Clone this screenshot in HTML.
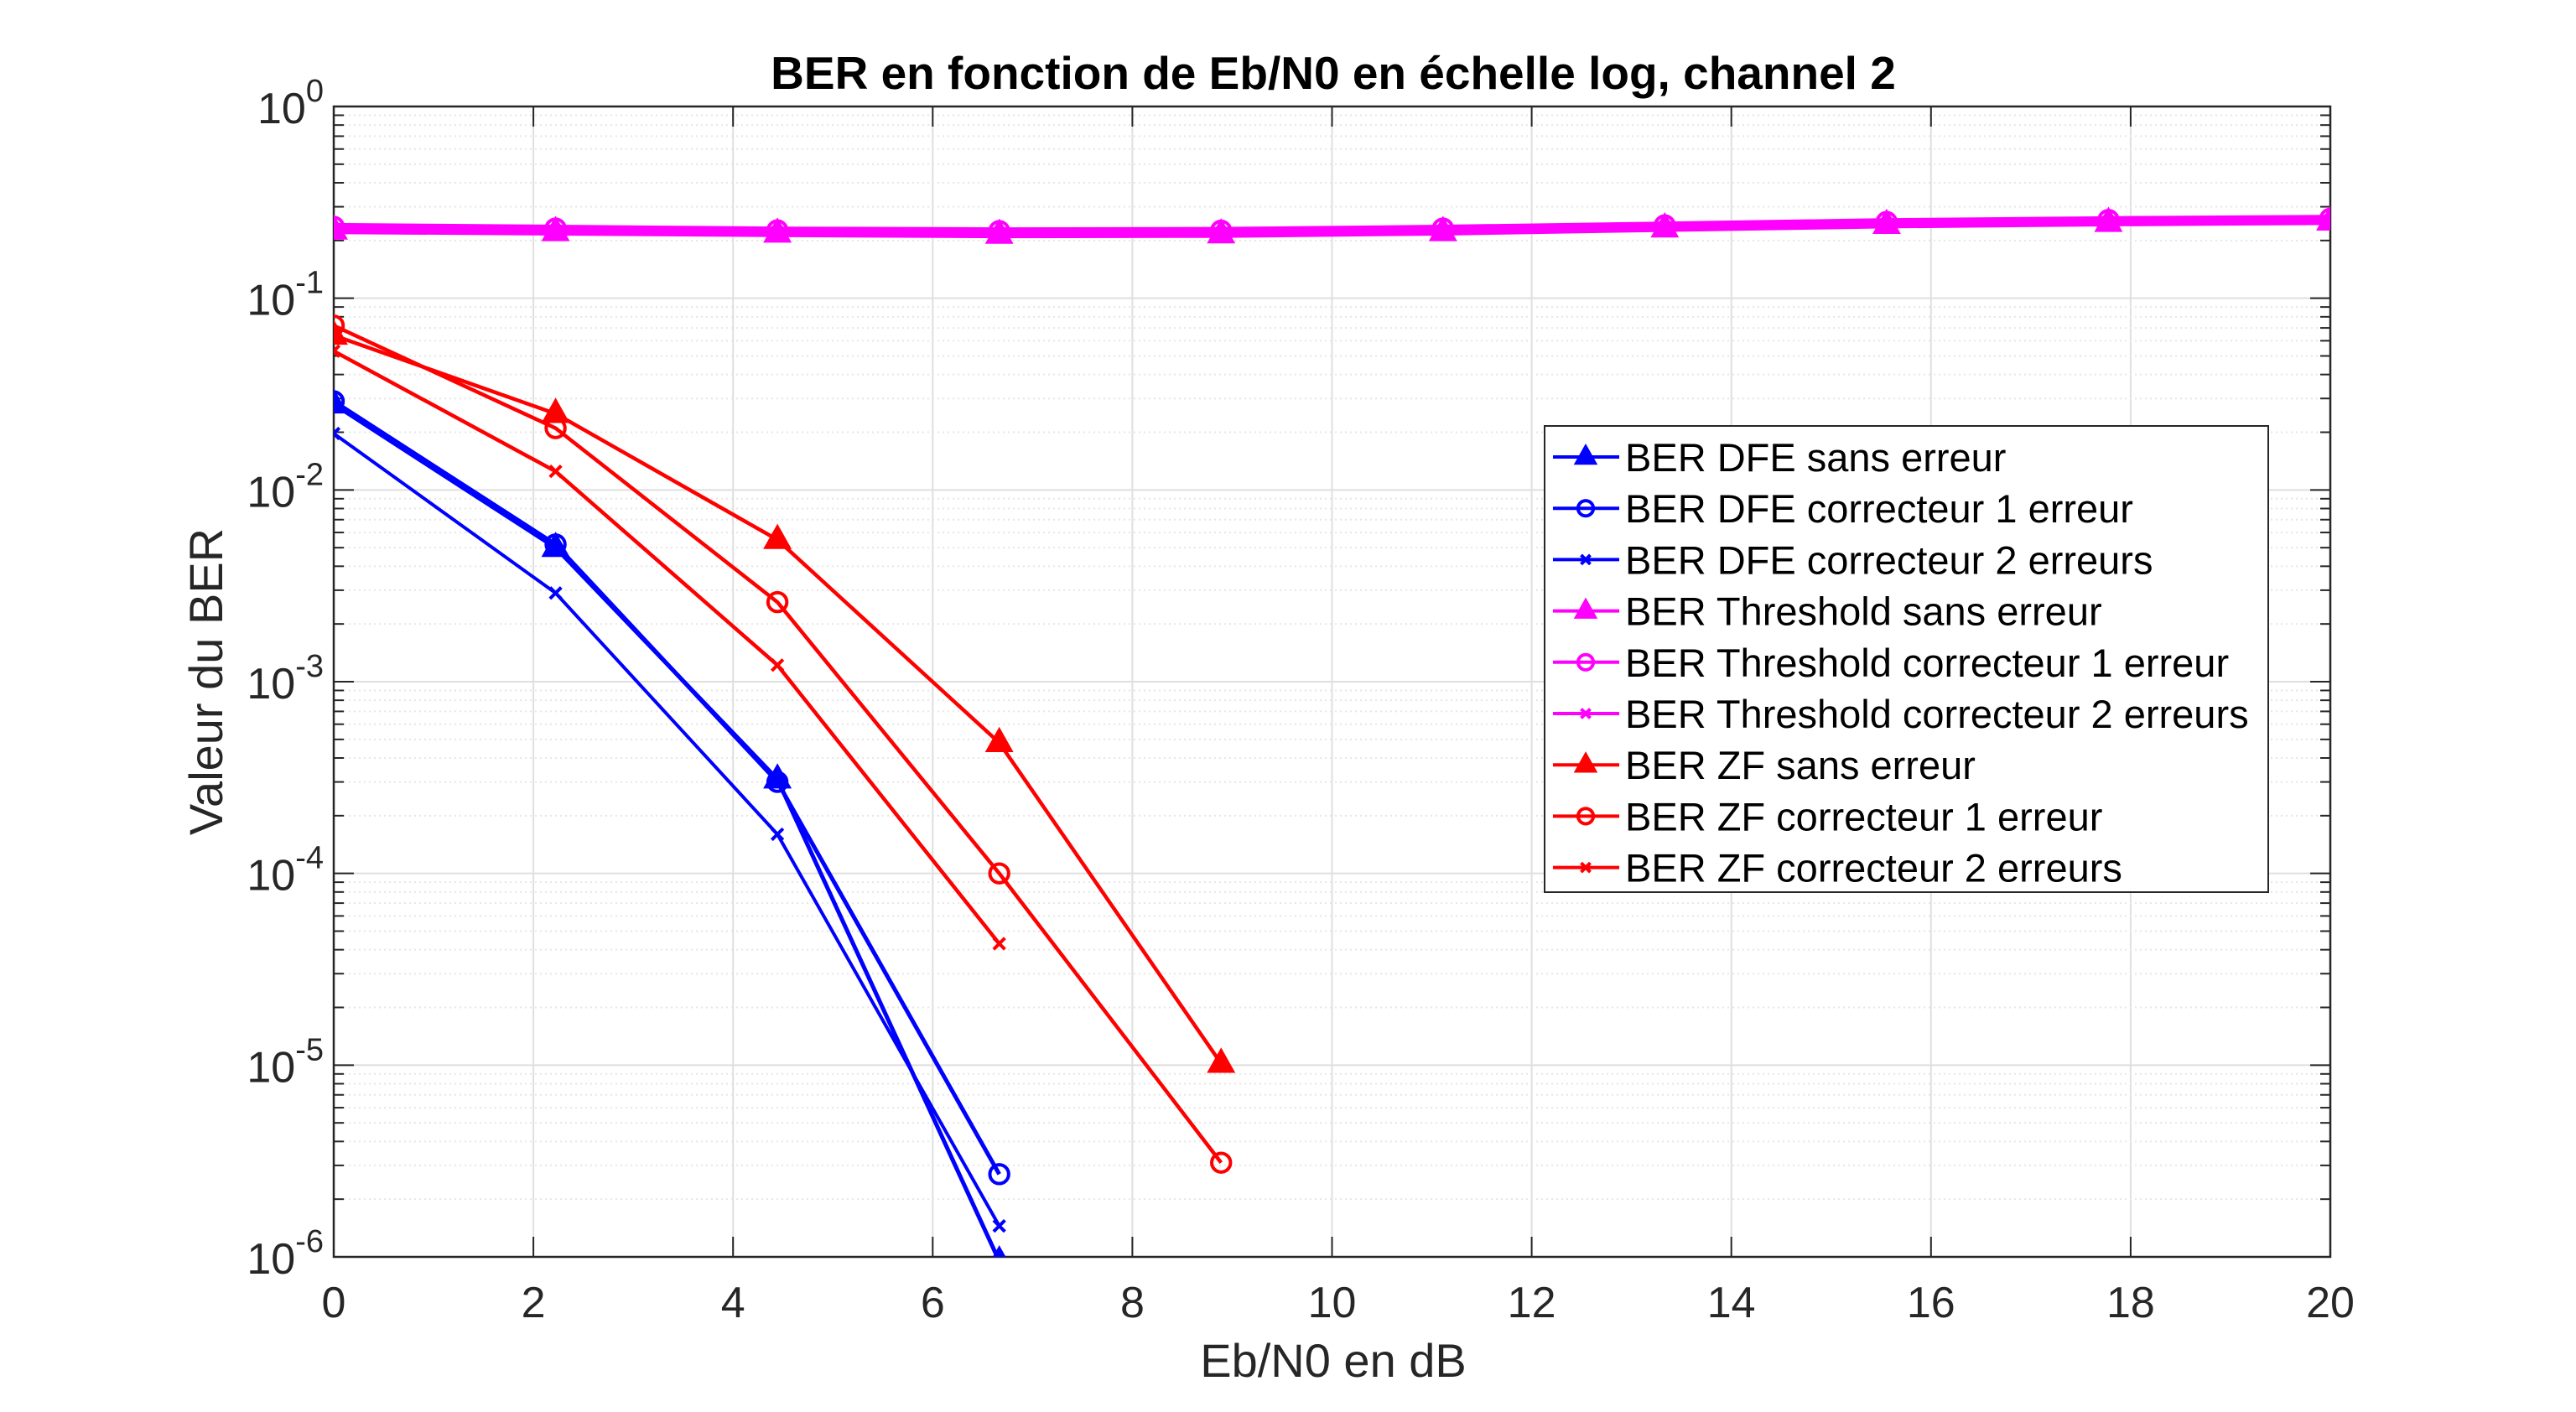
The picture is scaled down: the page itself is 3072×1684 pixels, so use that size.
<!DOCTYPE html>
<html><head><meta charset="utf-8"><style>
html,body{margin:0;padding:0;background:#fff}
svg{display:block;font-family:"Liberation Sans",Arial,sans-serif}
</style></head><body>
<svg id="chart" width="3072" height="1684" viewBox="0 0 3072 1684" xmlns="http://www.w3.org/2000/svg">
<rect width="3072" height="1684" fill="#fff"/>
<g id="grid"></g>
<g id="axes"></g>
<g id="series"></g>
<g id="legend"></g>
</svg>
<script>
const xValues=[0,2.2222,4.4444,6.6667,8.8889,11.1111,13.3333,15.5556,17.7778,20];
const dfeSans=[0.028,0.005,3.1e-4,9.5e-7];
const dfeC1=[0.029,0.0052,3.0e-4,2.7e-6];
const dfeC2=[0.0197,0.0029,1.6e-4,1.45e-6];
const thrSans=[0.226,0.222,0.218,0.215,0.216,0.222,0.232,0.242,0.248,0.252];
const thrC1=[0.236,0.231,0.226,0.224,0.225,0.231,0.240,0.250,0.256,0.260];
const thrC2=[0.229,0.225,0.221,0.218,0.219,0.225,0.235,0.245,0.251,0.255];
const zfSans=[0.064,0.025,0.0055,4.8e-4,1.02e-5];
const zfC1=[0.072,0.021,2.6e-3,1.0e-4,3.1e-6];
const zfC2=[0.053,0.0125,1.22e-3,4.3e-5];
const xTicks=[0,2,4,6,8,10,12,14,16,18,20];
const yExps=[0,-1,-2,-3,-4,-5,-6];
const legendLabels=["BER DFE sans erreur","BER DFE correcteur 1 erreur","BER DFE correcteur 2 erreurs","BER Threshold sans erreur","BER Threshold correcteur 1 erreur","BER Threshold correcteur 2 erreurs","BER ZF sans erreur","BER ZF correcteur 1 erreur","BER ZF correcteur 2 erreurs"];

const NS="http://www.w3.org/2000/svg";
const L=398,R=2779,T=127,B=1499;
const sx=v=>L+(v/20)*(R-L);
const sy=v=>T+(-Math.log10(v))/6*(B-T);
function mk(tag,attrs,parent){const e=document.createElementNS(NS,tag);for(const k in attrs)e.setAttribute(k,attrs[k]);parent.appendChild(e);return e;}
const grid=document.getElementById('grid'),axes=document.getElementById('axes'),ser=document.getElementById('series'),leg=document.getElementById('legend');

xTicks.forEach(t=>{const l=mk('line',{x1:sx(t),x2:sx(t),y1:T,y2:B,stroke:'#dfdfdf','stroke-width':2},grid);

});
for(let e=0;e>-6;e--){for(let m=2;m<=9;m++){const v=m*Math.pow(10,e-1);const l=mk('line',{x1:L,x2:R,y1:sy(v),y2:sy(v),stroke:'#e6e6e6','stroke-width':2,'stroke-dasharray':'2,4'},grid);

}}
yExps.forEach(e=>{const l=mk('line',{x1:L,x2:R,y1:sy(Math.pow(10,e)),y2:sy(Math.pow(10,e)),stroke:'#dfdfdf','stroke-width':2},grid);

});

const box=mk('rect',{x:L,y:T,width:R-L,height:B-T,fill:'none',stroke:'#262626','stroke-width':2.5},axes);


xTicks.forEach(t=>{mk('line',{x1:sx(t),x2:sx(t),y1:B,y2:B-24,stroke:'#262626','stroke-width':2},axes);mk('line',{x1:sx(t),x2:sx(t),y1:T,y2:T+24,stroke:'#262626','stroke-width':2},axes);
const tx=mk('text',{x:sx(t),y:B+72,'text-anchor':'middle','font-size':52,fill:'#262626'},axes);tx.textContent=t;

});
yExps.forEach(e=>{const y=sy(Math.pow(10,e));mk('line',{x1:L,x2:L+24,y1:y,y2:y,stroke:'#262626','stroke-width':2},axes);mk('line',{x1:R,x2:R-24,y1:y,y2:y,stroke:'#262626','stroke-width':2},axes);
const tx=mk('text',{x:L-12,y:y+20,'text-anchor':'end','font-size':52,fill:'#262626'},axes);
tx.innerHTML='10<tspan dy="-26" font-size="38">'+e+'</tspan>';


if(e>-6)for(let m=2;m<=9;m++){const yy=sy(m*Math.pow(10,e-1));mk('line',{x1:L,x2:L+12,y1:yy,y2:yy,stroke:'#262626','stroke-width':2},axes);mk('line',{x1:R,x2:R-12,y1:yy,y2:yy,stroke:'#262626','stroke-width':2},axes);}});
const title=mk('text',{x:1590,y:106,'text-anchor':'middle','font-size':55,'font-weight':'bold',fill:'#000'},axes);
title.textContent='BER en fonction de Eb/N0 en échelle log, channel 2';


const xl=mk('text',{x:1590,y:1642,'text-anchor':'middle','font-size':56,fill:'#262626'},axes);
xl.textContent='Eb/N0 en dB';


const yl=mk('text',{x:0,y:0,'text-anchor':'middle','font-size':56,fill:'#262626',transform:'translate(265,813) rotate(-90)'},axes);
yl.textContent='Valeur du BER';



const clip=mk('clipPath',{id:'pc'},document.getElementById('chart'));mk('rect',{x:L,y:T,width:R-L,height:B-T},clip);

function marker(g,type,x,y,color,s){
 if(type==='tri')mk('polygon',{points:`${x},${y-s} ${x-s*0.9},${y+s*0.6} ${x+s*0.9},${y+s*0.6}`,fill:color,stroke:color,'stroke-width':3},g);
 else if(type==='circ')mk('circle',{cx:x,cy:y,r:s*0.7,fill:'none',stroke:color,'stroke-width':4},g);
 else {const d=s*0.42;mk('path',{d:`M${x-d},${y-d}L${x+d},${y+d}M${x-d},${y+d}L${x+d},${y-d}`,stroke:color,'stroke-width':4},g);}
}
function series(name,vals,color,w,type){
 const g=mk('g',{'clip-path':'url(#pc)'},ser);
 
 
 const pts=vals.map((v,i)=>[sx(xValues[i]),sy(v)]);
 mk('polyline',{points:pts.map(p=>p.join(',')).join(' '),fill:'none',stroke:color,'stroke-width':w,'stroke-linejoin':'round'},g);
 pts.forEach(p=>marker(g,type,p[0],p[1],color,type==='tri'?16:16));
}
series('thr-sans-line',thrSans,'#ff00ff',9,'tri');
series('thr-c1-line',thrC1,'#ff00ff',9,'circ');
series('thr-c2-line',thrC2,'#ff00ff',9,'x');
series('zf-sans-line',zfSans,'#ff0000',4.5,'tri');
series('zf-c1-line',zfC1,'#ff0000',4.5,'circ');
series('zf-c2-line',zfC2,'#ff0000',4.5,'x');
series('dfe-sans-line',dfeSans,'#0000ff',5,'tri');
series('dfe-c1-line',dfeC1,'#0000ff',5,'circ');
series('dfe-c2-line',dfeC2,'#0000ff',4,'x');

const lb=mk('rect',{x:1842,y:508,width:863,height:556,fill:'#fff',stroke:'#262626','stroke-width':2},leg);


const lcol=['#0000ff','#0000ff','#0000ff','#ff00ff','#ff00ff','#ff00ff','#ff0000','#ff0000','#ff0000'];
const ltype=['tri','circ','x','tri','circ','x','tri','circ','x'];
legendLabels.forEach((t,i)=>{const y=545+i*61.2;const g=mk('g',{},leg);
 
 
 mk('line',{x1:1852,x2:1931,y1:y,y2:y,stroke:lcol[i],'stroke-width':4},g);
 marker(g,ltype[i],1891,y,lcol[i],13);
 const tx=mk('text',{x:1938,y:y+17,'font-size':47,fill:'#000'},g);tx.textContent=t;});
</script>
</body></html>
